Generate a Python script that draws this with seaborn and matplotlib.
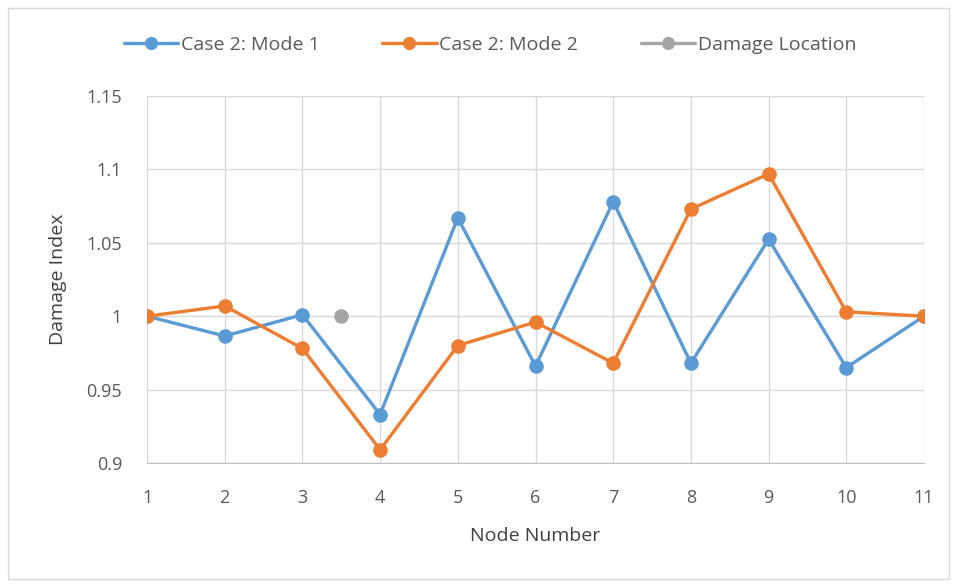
import pandas as pd
import matplotlib
matplotlib.use("Agg")
import matplotlib.pyplot as plt
from matplotlib.lines import Line2D
import seaborn as sns

# Data
nodes = [1, 2, 3, 4, 5, 6, 7, 8, 9, 10, 11]
mode1 = [1.0, 0.9865, 1.001, 0.933, 1.067, 0.966, 1.078, 0.968, 1.0525, 0.965, 1.0]
mode2 = [1.0, 1.007, 0.978, 0.909, 0.980, 0.996, 0.968, 1.073, 1.097, 1.003, 1.0]
damage_x = [3.5]
damage_y = [1.0]

df = pd.DataFrame({
    "Node": nodes * 2,
    "Index": mode1 + mode2,
    "Series": ["Case 2: Mode 1"] * len(nodes) + ["Case 2: Mode 2"] * len(nodes),
})

sns.set_style("whitegrid")
plt.rcParams["font.family"] = ["Open Sans", "DejaVu Sans"]

fig = plt.figure(figsize=(9.61, 5.86), dpi=100)
ax = fig.add_axes([0.153, 0.21, 0.8085, 0.626])

palette = {"Case 2: Mode 1": "#5B9BD5", "Case 2: Mode 2": "#ED7D31"}
sns.lineplot(data=df, x="Node", y="Index", hue="Series", palette=palette,
             marker="o", markersize=10.5, markeredgewidth=0, linewidth=2.4, ax=ax)
sns.lineplot(x=damage_x, y=damage_y, color="#A5A5A5", marker="o", markersize=10.5,
             markeredgewidth=0, linewidth=0, label="Damage Location", ax=ax)

ax.set_xlim(1, 11)
ax.set_ylim(0.9, 1.15)
ax.set_xticks(nodes)
ax.set_yticks([0.9, 0.95, 1.0, 1.05, 1.1, 1.15])
ax.set_yticklabels(["0.9", "0.95", "1", "1.05", "1.1", "1.15"])
ax.grid(True, color="#D9D9D9", linewidth=1)
for side in ["top", "right", "left"]:
    ax.spines[side].set_visible(False)
ax.spines["bottom"].set_color("#BFBFBF")
ax.tick_params(axis="x", length=0, labelsize=13, colors="#595959", pad=19)
ax.tick_params(axis="y", length=0, labelsize=13, colors="#595959", pad=18)
ax.set_xlabel("Node Number", fontsize=14, color="#404040", labelpad=14)
ax.set_ylabel("Damage Index", fontsize=14, color="#404040", labelpad=14)

handles = [Line2D([0], [0], color=c, marker="o", markersize=9.5, linewidth=2.4, markeredgewidth=0)
           for c in ["#5B9BD5", "#ED7D31", "#A5A5A5"]]
labels = ["Case 2: Mode 1", "Case 2: Mode 2", "Damage Location"]
ax.legend(handles, labels, loc="center", bbox_to_anchor=(0.51, 0.923),
          bbox_transform=fig.transFigure,
          ncol=3, frameon=False, fontsize=14, handlelength=2.8, columnspacing=3.2, handletextpad=0.15,
          labelcolor="#595959")

fig.patches.append(plt.Rectangle((0.008, 0.012), 0.98, 0.975, transform=fig.transFigure,
                                 fill=False, edgecolor="#D9D9D9", linewidth=1))

plt.savefig("out.png", dpi=100)
